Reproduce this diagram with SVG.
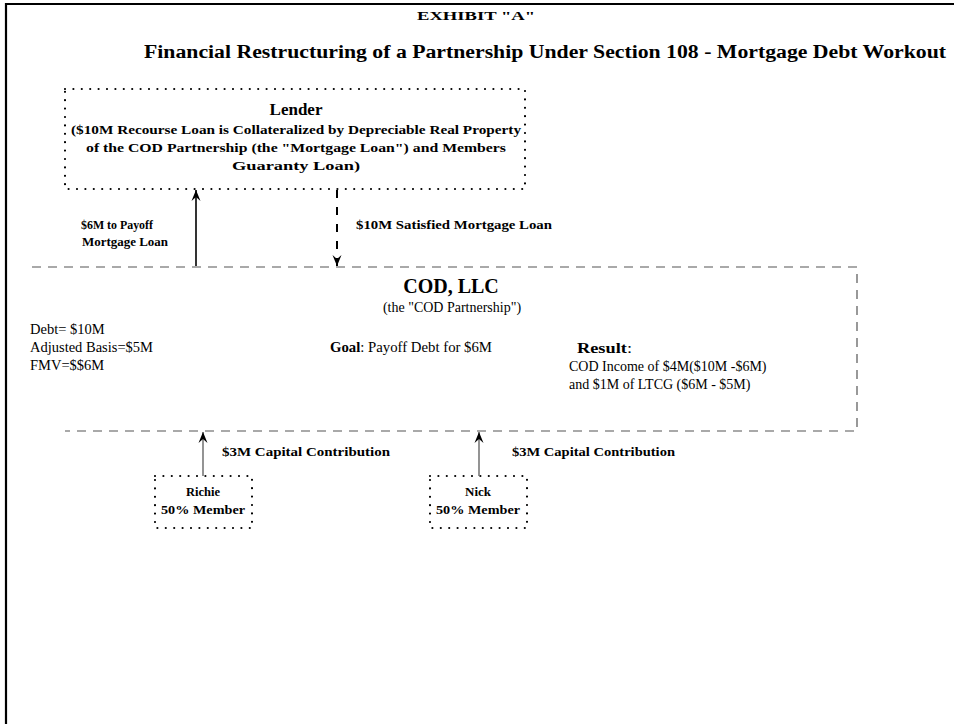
<svg xmlns="http://www.w3.org/2000/svg" width="954" height="724" viewBox="0 0 954 724">
  <style>
    .t { font-family: "Liberation Serif", "Times New Roman", serif; fill: #000; }
    .b { font-weight: bold; }
    .lbl { font-family: "Liberation Serif", "Times New Roman", serif; font-weight: bold; font-size: 12px; fill: #000; }
    .dot { fill: none; stroke: #000; stroke-width: 2.2; stroke-dasharray: 0 8.4; stroke-linecap: round; }
    .dash { fill: none; stroke: #555; stroke-width: 1.2; stroke-dasharray: 9 7; }
    .frame { fill: none; stroke: #000; stroke-width: 2.2; }
  </style>
  <defs>
    <marker id="head" viewBox="-12 -6 14 12" markerWidth="14" markerHeight="12" refX="0" refY="0" orient="auto" markerUnits="userSpaceOnUse">
      <path d="M0,0 L-11,-4.5 L-7,0 L-11,4.5 Z" fill="#000"/>
    </marker>
  </defs>
  <rect width="954" height="724" fill="#fff"/>
  <!-- page border -->
  <path class="frame" d="M6,724 V4 H954"/>

  <text class="t b" x="476" y="20" font-size="13.5" text-anchor="middle" textLength="118" lengthAdjust="spacingAndGlyphs">EXHIBIT "A"</text>
  <text class="t b" x="545" y="58" font-size="18.5" text-anchor="middle" textLength="802" lengthAdjust="spacingAndGlyphs">Financial Restructuring of a Partnership Under Section 108 - Mortgage Debt Workout</text>

  <g id="lender">
    <rect class="dot" x="65" y="89" width="460" height="100"/>
    <text class="t b" x="296" y="115" font-size="17" text-anchor="middle">Lender</text>
    <text class="t b" x="296" y="134" font-size="13.5" text-anchor="middle" textLength="450" lengthAdjust="spacingAndGlyphs">($10M Recourse Loan is Collateralized by Depreciable Real Property</text>
    <text class="t b" x="296" y="152" font-size="13.5" text-anchor="middle" textLength="420" lengthAdjust="spacingAndGlyphs">of the COD Partnership (the "Mortgage Loan") and Members</text>
    <text class="t b" x="296" y="170" font-size="13.5" text-anchor="middle" textLength="128" lengthAdjust="spacingAndGlyphs">Guaranty Loan)</text>
  </g>

  <g id="cod-llc">
    <path class="dash" d="M32,267 H857 V431 H65"/>
    <text class="t b" x="451" y="293" font-size="20" text-anchor="middle">COD, LLC</text>
    <text class="t" x="452" y="312" font-size="14" text-anchor="middle">(the "COD Partnership")</text>
    <text class="t" x="30" y="334" font-size="14.5">Debt= $10M</text>
    <text class="t" x="30" y="352" font-size="14.5">Adjusted Basis=$5M</text>
    <text class="t" x="30" y="370" font-size="14.5">FMV=$$6M</text>
    <text class="t" x="330" y="352" font-size="14.5" textLength="162" lengthAdjust="spacingAndGlyphs"><tspan class="b">Goal</tspan>: Payoff Debt for $6M</text>
    <text class="t" x="577" y="353" font-size="15" textLength="55" lengthAdjust="spacingAndGlyphs"><tspan class="b">Result</tspan>:</text>
    <text class="t" x="569" y="371" font-size="14">COD Income of $4M($10M -$6M)</text>
    <text class="t" x="569" y="389" font-size="14">and $1M of LTCG ($6M - $5M)</text>
  </g>

  <g id="richie">
    <rect class="dot" x="155" y="476" width="97" height="52"/>
    <text class="lbl" x="203" y="496" text-anchor="middle" textLength="34" lengthAdjust="spacingAndGlyphs">Richie</text>
    <text class="lbl" x="203" y="514" text-anchor="middle" textLength="84" lengthAdjust="spacingAndGlyphs">50% Member</text>
  </g>

  <g id="nick">
    <rect class="dot" x="430" y="476" width="97" height="52"/>
    <text class="lbl" x="478" y="496" text-anchor="middle" textLength="26" lengthAdjust="spacingAndGlyphs">Nick</text>
    <text class="lbl" x="478" y="514" text-anchor="middle" textLength="84" lengthAdjust="spacingAndGlyphs">50% Member</text>
  </g>

  <g id="connectors">
    <path d="M196,266 V190" stroke="#000" stroke-width="1.6" marker-end="url(#head)"/>
    <text class="lbl" x="81" y="229" textLength="72" lengthAdjust="spacingAndGlyphs">$6M to Payoff</text>
    <text class="lbl" x="82" y="246" textLength="86" lengthAdjust="spacingAndGlyphs">Mortgage Loan</text>

    <path d="M337,190 V266" stroke="#000" stroke-width="2" stroke-dasharray="8 9" marker-end="url(#head)"/>
    <text class="lbl" x="356" y="229" textLength="196" lengthAdjust="spacingAndGlyphs">$10M Satisfied Mortgage Loan</text>

    <path d="M203,476 V432" stroke="#666" stroke-width="1.4" marker-end="url(#head)"/>
    <text class="lbl" x="222" y="456" textLength="168" lengthAdjust="spacingAndGlyphs">$3M Capital Contribution</text>

    <path d="M479,476 V432" stroke="#666" stroke-width="1.4" marker-end="url(#head)"/>
    <text class="lbl" x="512" y="456" textLength="163" lengthAdjust="spacingAndGlyphs">$3M Capital Contribution</text>
  </g>
</svg>
